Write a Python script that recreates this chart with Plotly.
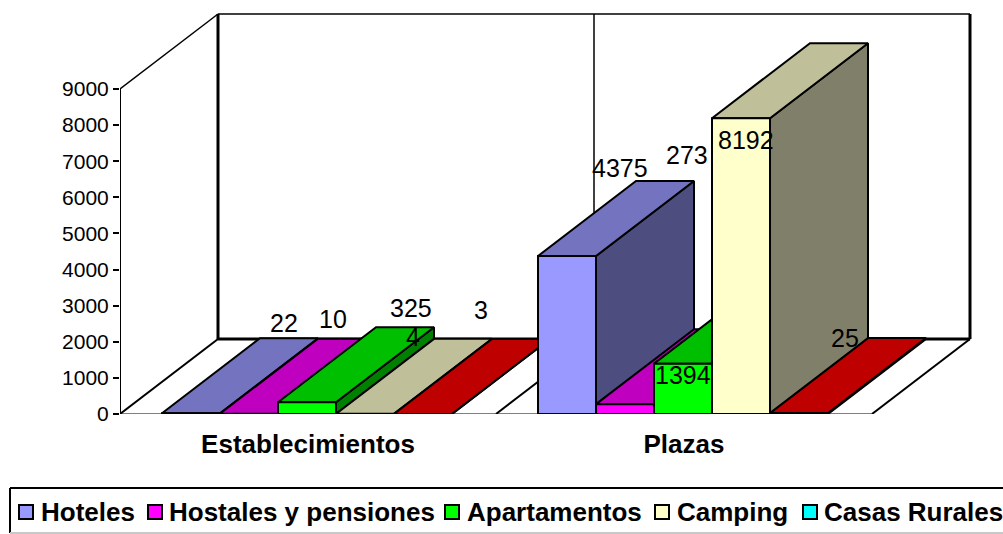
import plotly.graph_objects as go

categories = ["Establecimientos", "Plazas"]
series_names = ["Hoteles", "Hostales y pensiones", "Apartamentos", "Camping", "Casas Rurales"]
hoteles = [22, 4375]
hostales = [10, 273]
apartamentos = [325, 1394]
camping = [4, 8192]
casas_rurales = [3, 25]
series_values = [hoteles, hostales, apartamentos, camping, casas_rurales]
y_ticks = [0, 1000, 2000, 3000, 4000, 5000, 6000, 7000, 8000, 9000]

front_colors = ["#9999FF", "#FF00FF", "#00FF00", "#FFFFCC", "#00FFFF"]
top_colors = ["#7373BF", "#BF00BF", "#00BF00", "#BFBF99", "#BF0000"]
side_colors = ["#4D4D80", "#800080", "#008000", "#80806A", "#800000"]

# oblique projection: depth 1 moves this far on each axis
DX = 98 / 376
DY = 75 / 325 * 9000
BAR_W = 58 / 376
BAR_GAP = 42 / 376
X_MAX = 853 / 376
Y_MAX = 402 / 325 * 9000

W, H = 1003, 534
ML, MR, MT, MB = 120, 30, 12, 120

# label nudges (px) relative to the centre of each bar's top face
label_shift = [
    [(44, 53), (4, 51)],
    [(35, 57), (13, 212)],
    [(55, 57), (-49, -49)],
    [(-1, 39), (-44, -59)],
    [(9, 66), (-3, 38)],
]

# legend layout (px)
legend_left, legend_top, legend_bottom = 10, 488, 533
legend_swatch_x = [18, 147, 444, 654, 802]
legend_text_x = [41, 169, 467, 677, 824]
legend_mid_y = 512


def px(x):
    return (x - ML) / (W - ML - MR)


def py(y):
    return (H - MB - y) / (H - MT - MB)


def proj(x, v, d):
    return x + d * DX, v + d * DY


fig = go.Figure()


def poly(points, fill, width=2):
    pts = [proj(*p) for p in points]
    pts.append(pts[0])
    fig.add_trace(go.Scatter(x=[p[0] for p in pts], y=[p[1] for p in pts], mode="lines",
                             fill="toself", fillcolor=fill,
                             line=dict(color="black", width=width),
                             hoverinfo="skip", showlegend=False, cliponaxis=False))


def line(points, color="black", width=1.5):
    pts = [proj(*p) for p in points]
    fig.add_trace(go.Scatter(x=[p[0] for p in pts], y=[p[1] for p in pts], mode="lines",
                             line=dict(color=color, width=width),
                             hoverinfo="skip", showlegend=False, cliponaxis=False))


# walls and floor
line([(0, 0, 0), (len(categories), 0, 0)], "#808080", 2)
line([(0, 0, 0), (0, 9000, 0)], "black", 2)
line([(0, 9000, 0), (0, 9000, 1)], "black", 1.5)
line([(0, 9000, 1), (2, 9000, 1)], "black", 1.5)
line([(0, 9000, 1), (0, 0, 1)], "black", 3)
line([(1, 9000, 1), (1, 0, 1)], "black", 1.5)
line([(2, 9000, 1), (2, 0, 1)], "black", 3)
line([(0, 0, 1), (2, 0, 1)], "black", 3)
for c in range(3):
    line([(c, 0, 0), (c, 0, 1)], "black", 2)

# bars, painted left to right
for c in range(len(categories)):
    for s, vals in enumerate(series_values):
        v = vals[c]
        x0 = c + BAR_GAP + s * BAR_W
        x1 = x0 + BAR_W
        poly([(x1, 0, 0), (x1, v, 0), (x1, v, 1), (x1, 0, 1)], side_colors[s])
        poly([(x0, v, 0), (x1, v, 0), (x1, v, 1), (x0, v, 1)], top_colors[s])
        poly([(x0, 0, 0), (x1, 0, 0), (x1, v, 0), (x0, v, 0)], front_colors[s])

# value labels
for s, vals in enumerate(series_values):
    for c, v in enumerate(vals):
        x0 = c + BAR_GAP + s * BAR_W
        ax, ay = proj(x0 + BAR_W / 2, v, 0.5)
        sx, sy = label_shift[s][c]
        fig.add_annotation(x=ax, y=ay, text=str(v), showarrow=False, xshift=sx, yshift=sy,
                           font=dict(family="Liberation Sans", size=25, color="black"))

# legend
for (x0, y0, x1, y1, col) in [
    (legend_left, legend_top, W + 5, legend_top, "black"),
    (legend_left, legend_top, legend_left, legend_bottom, "black"),
    (legend_left, legend_bottom, W + 5, legend_bottom, "#C8C8C8"),
]:
    fig.add_shape(type="line", xref="paper", yref="paper", x0=px(x0), x1=px(x1), y0=py(y0), y1=py(y1),
                  line=dict(color=col, width=2))
for name, col, sx, tx in zip(series_names, front_colors, legend_swatch_x, legend_text_x):
    fig.add_shape(type="rect", xref="paper", yref="paper",
                  x0=px(sx + 1), x1=px(sx + 15), y0=py(legend_mid_y - 7), y1=py(legend_mid_y + 7),
                  line=dict(color="black", width=2), fillcolor=col)
    fig.add_annotation(xref="paper", yref="paper", x=px(tx), y=py(legend_mid_y), text=name,
                       showarrow=False, xanchor="left", yanchor="middle", borderpad=0, borderwidth=0,
                       font=dict(family="Liberation Sans", size=26, color="black", weight="bold"))

fig.update_layout(
    width=W, height=H, margin=dict(l=ML, r=MR, t=MT, b=MB, pad=0),
    paper_bgcolor="white", plot_bgcolor="white", autosize=False, showlegend=False,
    xaxis=dict(range=[0, X_MAX], showgrid=False, zeroline=False, showline=False, ticks="",
               tickmode="array", tickvals=[i + 0.5 for i in range(len(categories))],
               ticktext=categories, ticklabelstandoff=12,
               tickfont=dict(family="Liberation Sans", size=26, color="black", weight="bold")),
    yaxis=dict(range=[0, Y_MAX], showgrid=False, zeroline=False, showline=False,
               ticks="outside", ticklen=6, tickwidth=2, tickcolor="black",
               tickmode="array", tickvals=y_ticks,
               tickfont=dict(family="Liberation Sans", size=21, color="black")),
)
fig.write_html("out.html", config={"displayModeBar": False},
               post_script="document.body.style.margin='0';")
